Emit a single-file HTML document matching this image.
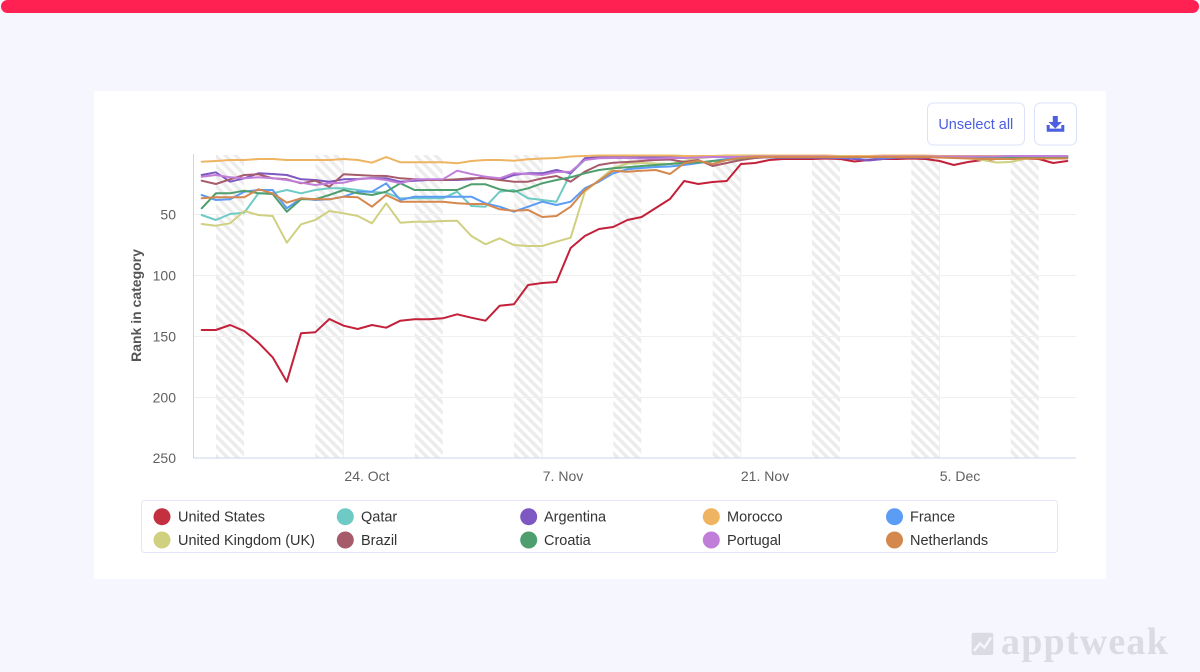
<!DOCTYPE html>
<html><head><meta charset="utf-8"><style>
html,body{margin:0;padding:0;}
body{width:1200px;height:672px;background:#f5f6fe;overflow:hidden;position:relative;font-family:"Liberation Sans",sans-serif;}
.bar{position:absolute;left:1px;top:0;width:1198px;height:13px;background:#ff2152;border-radius:7px;}
.card{position:absolute;left:94px;top:91px;width:1012px;height:488px;background:#fff;}
svg{position:absolute;left:0;top:0;}
</style></head><body>
<div class="bar"></div>
<div class="card"></div>
<svg width="1200" height="672" viewBox="0 0 1200 672" xmlns="http://www.w3.org/2000/svg">
<defs>
<pattern id="hatch" patternUnits="userSpaceOnUse" width="10" height="10">
<path d="M0 0 L10 10 M9 -1 L11 1 M-1 9 L1 11" stroke="#ececec" stroke-width="3.5"/>
</pattern>
<clipPath id="plot"><rect x="193" y="152" width="884" height="306"/></clipPath>
</defs>
<g fill="url(#hatch)">
<rect x="216" y="155" width="28" height="303"/>
<rect x="315.3" y="155" width="28" height="303"/>
<rect x="414.7" y="155" width="28" height="303"/>
<rect x="514" y="155" width="28" height="303"/>
<rect x="613.3" y="155" width="28" height="303"/>
<rect x="712.7" y="155" width="28" height="303"/>
<rect x="812" y="155" width="28" height="303"/>
<rect x="911.3" y="155" width="28" height="303"/>
<rect x="1010.7" y="155" width="28" height="303"/>
</g>
<g stroke="#efefef" stroke-width="1">
<line x1="193" y1="214.5" x2="1076" y2="214.5"/>
<line x1="193" y1="275.5" x2="1076" y2="275.5"/>
<line x1="193" y1="336.5" x2="1076" y2="336.5"/>
<line x1="193" y1="397.5" x2="1076" y2="397.5"/>
<line x1="343.5" y1="155" x2="343.5" y2="458"/>
<line x1="542.2" y1="155" x2="542.2" y2="458"/>
<line x1="740.8" y1="155" x2="740.8" y2="458"/>
<line x1="939.5" y1="155" x2="939.5" y2="458"/>
</g>
<line x1="193.5" y1="154" x2="193.5" y2="458" stroke="#ccd6eb" stroke-width="1"/>
<line x1="193" y1="458" x2="1076" y2="458" stroke="#ccd6eb" stroke-width="1"/>
<g font-size="14" fill="#606060" text-anchor="end" font-family="Liberation Sans, sans-serif">
<text x="176" y="219.5">50</text>
<text x="176" y="280.5">100</text>
<text x="176" y="341.5">150</text>
<text x="176" y="402.5">200</text>
<text x="176" y="463">250</text>
</g>
<text transform="translate(141,305.5) rotate(-90)" text-anchor="middle" font-size="14" font-weight="bold" fill="#555" font-family="Liberation Sans, sans-serif">Rank in category</text>
<g font-size="14" fill="#606060" text-anchor="middle" font-family="Liberation Sans, sans-serif">
<text x="367" y="481">24. Oct</text>
<text x="563" y="481">7. Nov</text>
<text x="765" y="481">21. Nov</text>
<text x="960" y="481">5. Dec</text>
</g>
<g clip-path="url(#plot)">
<g transform="translate(201.7,0) scale(14.19,1)" fill="none" stroke-width="2" stroke-linejoin="round" stroke-linecap="round">
<polyline vector-effect="non-scaling-stroke" stroke="#c3203a" points="0,330 1,330 2,325 3,331 4,342.7 5,357.3 6,381.7 7,333.3 8,332.3 9,319 10,325.7 11,329 12,325 13,327.7 14,320.7 15,319.3 16,319.3 17,318.3 18,314.3 19,317.7 20,320.7 21,305.7 22,304.3 23,285 24,283 25,282 26,248 27,236 28,229 29,227 30,220 31,217 32,208 33,199 34,181 35,184 36,182 37,181 38,164 39,163 40,160 41,159 42,159 43,159 44,158.5 45,159 46,161.5 47,160 48,159 49,159 50,158.5 51,159 52,161 53,165 54,162 55,160 56,159 57,159 58,158.5 59,159 60,163 61,161"/>
<polyline vector-effect="non-scaling-stroke" stroke="#6ecac4" points="0,215 1,220 2,214 3,212.7 4,193.3 5,193.3 6,190 7,193.3 8,190 9,188.3 10,188.3 11,190 12,192 13,192.7 14,198.3 15,198.3 16,198.3 17,198.3 18,191.7 19,206 20,206.7 21,191.7 22,190 23,198.3 24,200 25,201.7 26,173.3 27,160 28,157 29,156 30,156 31,156 32,155.5 33,155.5 34,156 35,156 36,156 37,156 38,156 39,156 40,156 41,156 42,156 43,156 44,156 45,156 46,156 47,156 48,156 49,156 50,156 51,156 52,156 53,156 54,156 55,156 56,156 57,156 58,156 59,156 60,156 61,156"/>
<polyline vector-effect="non-scaling-stroke" stroke="#7e57c2" points="0,175 1,172.3 2,181.7 3,178.3 4,173.3 5,174 6,175 7,179.3 8,180 9,181.7 10,179.3 11,179 12,178 13,178.3 14,181.7 15,180.7 16,180 17,180 18,180 19,179.3 20,176.7 21,180 22,175 23,173.3 24,173.3 25,170 26,173.3 27,158.3 28,157 29,157 30,157 31,157 32,157.5 33,157 34,157 35,157 36,157 37,157 38,156.5 39,156.5 40,156.5 41,157 42,157 43,157.5 44,157.5 45,158 46,159 47,160.5 48,159 49,157.5 50,157 51,157 52,157 53,157 54,157 55,157 56,157 57,156.5 58,156.5 59,156.5 60,156.5 61,156.5"/>
<polyline vector-effect="non-scaling-stroke" stroke="#eeb462" points="0,161.7 1,161 2,160 3,160 4,159 5,159 6,160 7,160 8,160 9,160 10,159 11,160 12,162.7 13,157 14,162.3 15,162.3 16,162.3 17,162.3 18,163.3 19,161 20,160 21,160 22,160.7 23,159.3 24,158.5 25,158 26,156.5 27,156 28,155.5 29,155.5 30,155.5 31,155.5 32,155.5 33,155.5 34,156 35,156 36,156 37,155.5 38,155.5 39,155.5 40,155.5 41,155.5 42,155.5 43,155.5 44,155.5 45,156 46,156 47,156 48,155.5 49,155.5 50,155.5 51,155.5 52,156 53,156 54,156 55,156 56,156 57,156.5 58,156 59,156 60,156 61,156"/>
<polyline vector-effect="non-scaling-stroke" stroke="#5b9cf4" points="0,195 1,200 2,199.3 3,191.7 4,190 5,190 6,208.3 7,198.3 8,200 9,199.3 10,196.7 11,191.7 12,191.7 13,183.3 14,200 15,196.7 16,196.7 17,196.7 18,196.7 19,196.7 20,203.3 21,206.7 22,211.7 23,206.7 24,201.7 25,205 26,201.7 27,188.3 28,181.7 29,173.3 30,169.3 31,168 32,167 33,166.5 34,165 35,163 36,161 37,159 38,158 39,157.5 40,157.5 41,157.5 42,157.5 43,157.5 44,157.5 45,157.5 46,157.5 47,157.5 48,157.5 49,157.5 50,157.5 51,157.5 52,157.5 53,157.5 54,157.5 55,157.5 56,157.5 57,157.5 58,157.5 59,157.5 60,157.5 61,157.5"/>
<polyline vector-effect="non-scaling-stroke" stroke="#cfd080" points="0,224 1,225.7 2,223.3 3,211 4,215 5,216 6,242.7 7,224.3 8,220 9,211 10,213.3 11,216 12,223.3 13,203.3 14,222.7 15,221.7 16,221.7 17,221 18,220.7 19,236 20,244.3 21,238.3 22,245 23,246 24,246 25,241.7 26,237.7 27,191.7 28,180 29,168 30,163.5 31,163 32,163.5 33,164 34,161 35,158 36,157 37,156.5 38,156.5 39,156.5 40,156.5 41,156.5 42,157 43,157 44,156.5 45,156.5 46,157 47,157 48,157 49,157 50,156.5 51,157 52,157 53,157 54,158 55,160 56,162.5 57,162 58,159 59,157.5 60,157 61,157.5"/>
<polyline vector-effect="non-scaling-stroke" stroke="#a65a6a" points="0,180.7 1,184 2,179.3 3,175 4,174.3 5,178.3 6,179.3 7,183.3 8,180.7 9,186.7 10,174.3 11,175 12,175.7 13,176 14,178.3 15,179.3 16,180 17,180 18,179.3 19,178.3 20,178.3 21,180 22,181.7 23,181.7 24,178.3 25,176 26,181.7 27,171.7 28,165 29,162.7 30,162 31,161 32,160 33,159.5 34,162 35,160 36,166 37,163 38,160 39,158 40,157 41,157 42,157 43,157 44,157 45,157 46,157 47,157 48,157 49,157 50,157 51,157 52,157.5 53,157.5 54,157.5 55,157 56,157 57,157 58,157 59,157 60,157 61,157"/>
<polyline vector-effect="non-scaling-stroke" stroke="#4e9e6e" points="0,208.3 1,193.3 2,193.3 3,190.7 4,193.3 5,194 6,211.7 7,199.3 8,199.3 9,195 10,190 11,193.3 12,195 13,191.7 14,183.3 15,190 16,190 17,190 18,190 19,184.3 20,184.3 21,189.3 22,191.7 23,188.3 24,183.3 25,180 26,177.3 27,173.3 28,170 29,168.3 30,167.3 31,166 32,165 33,164 34,163 35,162.5 36,161 37,160 38,158.5 39,157 40,157 41,157 42,157 43,157 44,157 45,157 46,157 47,157 48,157 49,157 50,157 51,157 52,157 53,157 54,157 55,157 56,157 57,157 58,157 59,157 60,157 61,157"/>
<polyline vector-effect="non-scaling-stroke" stroke="#c07ed8" points="0,176.7 1,175 2,177.3 3,178.3 4,177.3 5,178.3 6,180 7,182.7 8,185 9,183.3 10,182.7 11,179.3 12,178.3 13,180 14,183.3 15,179.3 16,179.3 17,179.3 18,170.7 19,174 20,176.7 21,178.3 22,173.3 23,174 24,175 25,172 26,171.7 27,160 28,158.3 29,158 30,158 31,158.5 32,158.5 33,158 34,158 35,157.5 36,157 37,157 38,157 39,156.5 40,156.5 41,156.5 42,156.5 43,156.5 44,156.5 45,157 46,157 47,157 48,156.5 49,156.5 50,156.5 51,156.5 52,156.5 53,156.5 54,156.5 55,156.5 56,156.5 57,156 58,156 59,156 60,156 61,156"/>
<polyline vector-effect="non-scaling-stroke" stroke="#d4884e" points="0,198.3 1,197.3 2,197.3 3,197.3 4,189.3 5,193.3 6,202.7 7,198.3 8,199.3 9,199.3 10,196.7 11,197.3 12,206.7 13,195 14,201.7 15,201.7 16,201.7 17,201.7 18,203.3 19,204 20,204 21,209.3 22,210.7 23,210 24,217 25,216 26,206.7 27,190 28,180.7 29,170.7 30,171.7 31,170.7 32,170 33,174 34,163.3 35,160.7 36,164 37,160 38,158 39,157 40,157 41,157 42,157 43,157 44,157 45,157 46,157 47,157 48,157 49,157 50,157 51,157 52,157.5 53,158 54,158.5 55,159 56,159 57,159 58,158.5 59,158.5 60,158.5 61,158.5"/>
</g>
</g>
<rect x="927.5" y="103" width="97" height="42" rx="6" fill="#fff" stroke="#dde2fb" stroke-width="1"/>
<text x="975.8" y="129" text-anchor="middle" font-size="14.5" fill="#4b5fe0" font-family="Liberation Sans, sans-serif">Unselect all</text>
<rect x="1034.5" y="103" width="42" height="42" rx="6" fill="#fff" stroke="#dde2fb" stroke-width="1"/>
<g fill="#4b5fe0">
<rect x="1052.8" y="116" width="5" height="7"/>
<polygon points="1048.5,122 1062,122 1055.3,128.5"/>
<path d="M1046.7 125 h3 v3.6 h11.6 v-3.6 h3 v6.7 h-17.6 z"/>
</g>
<rect x="141.5" y="500.5" width="916" height="52" rx="3" fill="#fff" stroke="#e2e5fb" stroke-width="1"/>
<g font-size="14.5" fill="#333" font-family="Liberation Sans, sans-serif">
<circle cx="162" cy="516.7" r="8.5" fill="#c3303f"/><text x="178" y="521.7">United States</text>
<circle cx="345.3" cy="516.7" r="8.5" fill="#6ecac4"/><text x="361" y="521.7">Qatar</text>
<circle cx="528.7" cy="516.7" r="8.5" fill="#7e57c2"/><text x="544" y="521.7">Argentina</text>
<circle cx="711.3" cy="516.7" r="8.5" fill="#eeb462"/><text x="727" y="521.7">Morocco</text>
<circle cx="894.5" cy="516.7" r="8.5" fill="#5b9cf4"/><text x="910" y="521.7">France</text>
<circle cx="162" cy="540" r="8.5" fill="#cfd080"/><text x="178" y="545">United Kingdom (UK)</text>
<circle cx="345.3" cy="540" r="8.5" fill="#a65a6a"/><text x="361" y="545">Brazil</text>
<circle cx="528.7" cy="540" r="8.5" fill="#4e9e6e"/><text x="544" y="545">Croatia</text>
<circle cx="711.3" cy="540" r="8.5" fill="#c07ed8"/><text x="727" y="545">Portugal</text>
<circle cx="894.5" cy="540" r="8.5" fill="#d4884e"/><text x="910" y="545">Netherlands</text>
</g>
<rect x="971.7" y="632.7" width="21.6" height="22.3" rx="2" fill="#dadbe3"/>
<polyline points="974,651 980,643.5 984.5,647.5 991,637.5" fill="none" stroke="#f5f6fe" stroke-width="2.5"/>
<text x="1001" y="654" font-size="38" font-weight="bold" fill="#dadbe3" font-family="Liberation Serif, serif" letter-spacing="1.2">apptweak</text>
</svg>
</body></html>
